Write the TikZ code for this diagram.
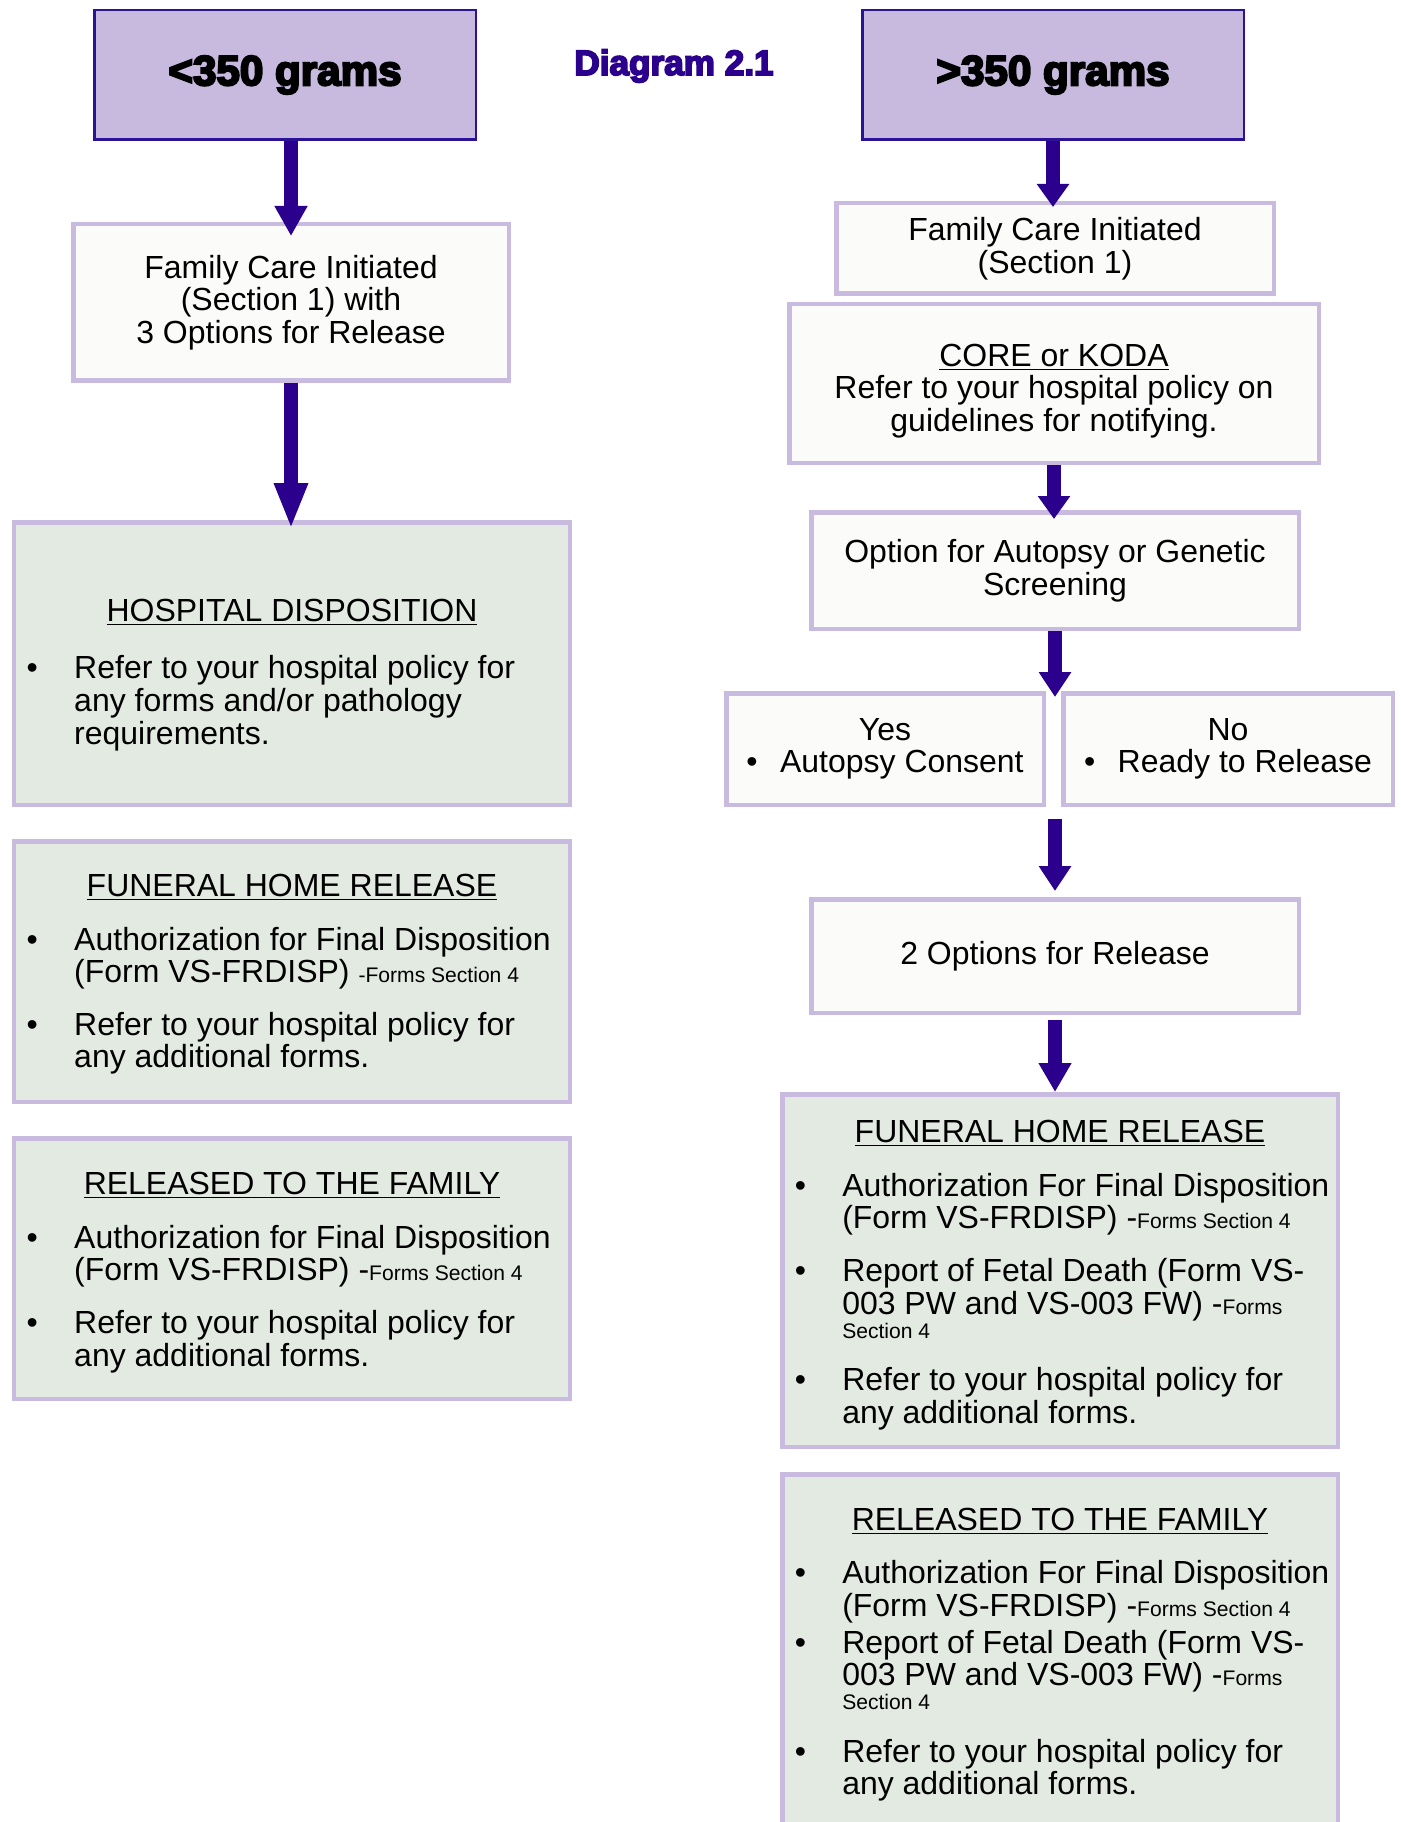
\documentclass[tikz,border=0pt]{standalone}
\usepackage{fontspec}
\setmainfont{Liberation Sans}
\newfontfamily\heavyfont[FakeBold=5]{Liberation Sans}
\usepackage{xcolor}
\usepackage{tikz}
\usetikzlibrary{arrows.meta}

\definecolor{lavender}{RGB}{201,186,223}
\definecolor{lavfill}{RGB}{200,186,222}
\definecolor{navyedge}{RGB}{44,18,150}
\definecolor{arrowc}{RGB}{42,0,140}
\definecolor{sage}{RGB}{227,234,226}
\definecolor{paper}{RGB}{251,251,249}

\newcommand{\bodysize}{\fontsize{18.2}{18.5}\selectfont}
\newcommand{\smallform}[1]{{\fontsize{12}{13}\selectfont #1}}
\newcommand{\boxtitle}[2][0pt]{{\spaceskip=0pt\xspaceskip=0pt\centerline{\rule{0pt}{#1}\underline{#2}}}}
\newcommand{\bitem}[2][12pt]{\par\vspace{#1}\noindent\makebox[1cm][l]{\hspace{0.05cm}\textbullet}\parbox[t]{10.1cm}{\spaceskip=0pt\xspaceskip=0pt\raggedright\hyphenpenalty=10000 #2}}

\begin{document}
\begin{tikzpicture}[
  topbox/.style={draw=navyedge, line width=0.05cm, fill=lavfill, minimum width=7.63cm, minimum height=2.59cm, font=\heavyfont\bfseries\fontsize{24}{28}\selectfont},
  flowbox/.style={draw=lavender, line width=0.09cm, fill=paper, align=center, font=\bodysize},
  listbox/.style={draw=lavender, line width=0.09cm, fill=sage, text width=10.71cm, inner xsep=0.2cm, align=left, font=\bodysize},
  flowarrow/.style={draw=arrowc, line width=0.27cm, -{Triangle[width=0.62cm,length=#1]}},
  flowarrow/.default=0.5cm]
 \useasboundingbox (0,0) rectangle (28,-36.44);
 \clip (0,0) rectangle (28,-36.44);
 % left column: below 350 grams
 \node[topbox] (lt) at (5.70,-1.50) {<350 grams};
 \node[flowbox, minimum width=8.71cm, minimum height=3.13cm] (fcL) at (5.82,-6.05) {Family Care Initiated\\(Section 1) with\\3 Options for Release};
 \node[listbox, minimum height=5.65cm] (hosp) at (5.84,-13.27) {\boxtitle[0.91cm]{HOSPITAL DISPOSITION}\bitem[14pt]{Refer to your hospital policy for\\any forms and/or pathology\\requirements.}};
 \node[listbox, minimum height=5.21cm] (fhL) at (5.84,-19.43) {\boxtitle[0.56cm]{FUNERAL HOME RELEASE}\bitem{Authorization for Final Disposition\\(Form VS-FRDISP) \smallform{-Forms Section 4}}\bitem{Refer to your hospital policy for\\any additional forms.}};
 \node[listbox, minimum height=5.21cm] (rfL) at (5.84,-25.37) {\boxtitle[0.61cm]{RELEASED TO THE FAMILY}\bitem{Authorization for Final Disposition\\(Form VS-FRDISP) -\smallform{Forms Section 4}}\bitem{Refer to your hospital policy for\\any additional forms.}};
 % right column: above 350 grams
 \node[font=\heavyfont\bfseries\fontsize{20}{24}\selectfont, text=arrowc] (diag) at (13.48,-1.32) {Diagram 2.1};
 \node[topbox] (gt) at (21.06,-1.50) {>350 grams};
 \node[flowbox, minimum width=8.75cm, minimum height=1.81cm] (fcR) at (21.10,-4.97) {Family Care Initiated\\(Section 1)};
 \node[flowbox, minimum width=10.59cm, minimum height=3.17cm] (core) at (21.08,-7.67) {\rule{0pt}{0.74cm}\underline{CORE or KODA}\\Refer to your hospital policy on\\guidelines for notifying.};
 \node[flowbox, minimum width=9.75cm, minimum height=2.33cm] (opt) at (21.10,-11.41) {Option for Autopsy or Genetic\\Screening};
 \node[flowbox, minimum width=6.35cm, minimum height=2.23cm] (yes) at (17.70,-14.98) {Yes\\\textbullet\hspace{0.45cm}Autopsy Consent};
 \node[flowbox, minimum width=6.59cm, minimum height=2.23cm] (no) at (24.56,-14.98) {No\\\textbullet\hspace{0.45cm}Ready to Release};
 \node[flowbox, minimum width=9.75cm, minimum height=2.27cm] (two) at (21.10,-19.12) {2 Options for Release};
 \node[listbox, minimum height=7.05cm] (fhR) at (21.20,-25.41) {\boxtitle[0.63cm]{FUNERAL HOME RELEASE}\bitem{Authorization For Final Disposition\\(Form VS-FRDISP) -\smallform{Forms Section 4}}\bitem{Report of Fetal Death (Form VS-\\003 PW and VS-003 FW) -\smallform{Forms}\\[-4.7pt]\smallform{Section 4}}\bitem[15.5pt]{Refer to your hospital policy for\\any additional forms.}};
 \node[listbox, minimum height=6.99cm] (rfR) at (21.20,-32.98) {\boxtitle[0.67cm]{RELEASED TO THE FAMILY}\bitem{Authorization For Final Disposition\\(Form VS-FRDISP) -\smallform{Forms Section 4}}\bitem[3pt]{Report of Fetal Death (Form VS-\\003 PW and VS-003 FW) -\smallform{Forms}\\[-4.7pt]\smallform{Section 4}}\bitem[15.5pt]{Refer to your hospital policy for\\any additional forms.}};
 % arrows
 \draw[flowarrow=0.6cm] (fcL.north |- lt.south) -- ([yshift=-0.28cm]fcL.north);
 \draw[flowarrow=0.92cm] (fcL.south) -- ([yshift=-0.18cm]fcL.south |- hosp.north);
 \draw[flowarrow=0.46cm] (gt.south) -- ([yshift=-0.12cm]gt.south |- fcR.north);
 \draw[flowarrow=0.46cm] (core.south) -- ([yshift=-0.18cm]core.south |- opt.north);
 \draw[flowarrow] (opt.south) -- ([yshift=-0.12cm]opt.south |- yes.north);
 \draw[flowarrow] ([yshift=-0.24cm]two.north |- yes.south) -- ([yshift=0.12cm]two.north);
 \draw[flowarrow=0.58cm] ([yshift=-0.1cm]two.south) -- (two.south |- fhR.north);
\end{tikzpicture}
\end{document}
